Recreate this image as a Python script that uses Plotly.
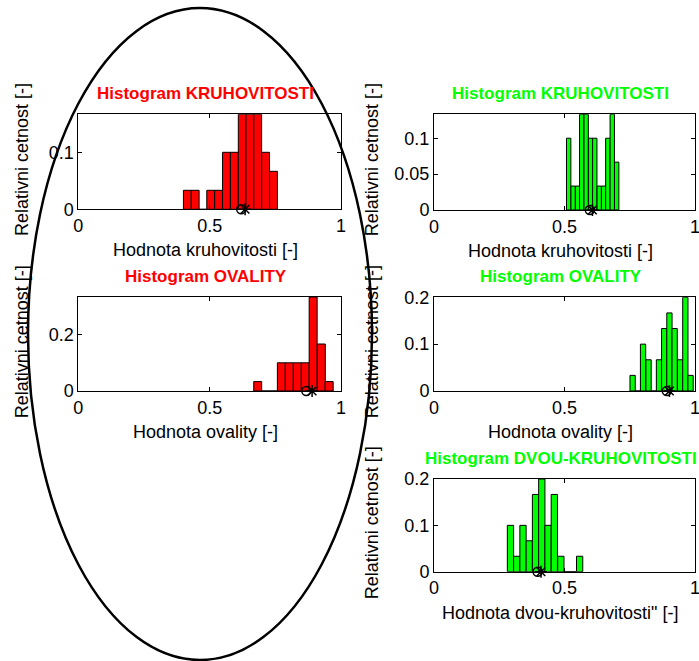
import plotly.graph_objects as go

W, H = 699, 661

# ---------------- data ----------------
# relative frequencies (counts / 30)
kruh_red_centers = [0.415, 0.445, 0.475, 0.504, 0.534, 0.564, 0.594, 0.624, 0.653, 0.683, 0.713, 0.743]
kruh_red_vals = [1/30, 1/30, 0, 1/30, 1/30, 3/30, 3/30, 5/30, 5/30, 5/30, 3/30, 2/30]
kruh_red_width = 0.0298
kruh_red_marks = [0.62, 0.635]

oval_red_centers = [0.683, 0.713, 0.743, 0.773, 0.803, 0.834, 0.864, 0.894, 0.925, 0.955]
oval_red_vals = [1/30, 0, 0, 3/30, 3/30, 3/30, 3/30, 10/30, 5/30, 1/30]
oval_red_width = 0.0303
oval_red_marks = [0.868, 0.89]

kruh_green_centers = [0.516, 0.533, 0.550, 0.566, 0.583, 0.600, 0.616, 0.633, 0.650, 0.666, 0.683, 0.700]
kruh_green_vals = [3/30, 1/30, 1/30, 4/30, 4/30, 3/30, 3/30, 1/30, 1/30, 3/30, 4/30, 2/30]
kruh_green_width = 0.01665
kruh_green_marks = [0.597, 0.607]

oval_green_centers = [0.761, 0.781, 0.801, 0.822, 0.842, 0.862, 0.882, 0.902, 0.922, 0.943, 0.963, 0.983]
oval_green_vals = [1/30, 0, 3/30, 2/30, 0, 2/30, 4/30, 5/30, 4/30, 2/30, 6/30, 1/30]
oval_green_width = 0.0202
oval_green_marks = [0.892, 0.902]

dvou_green_centers = [0.293, 0.317, 0.341, 0.365, 0.389, 0.413, 0.437, 0.461, 0.486, 0.510, 0.534, 0.558]
dvou_green_vals = [3/30, 1/30, 3/30, 2/30, 5/30, 6/30, 3/30, 5/30, 1/30, 0, 0, 1/30]
dvou_green_width = 0.02406
dvou_green_marks = [0.397, 0.41]

x_tickvals = [0, 0.5, 1]
x_ticktext = ["0", "0.5", "1"]

RED = "#ff0000"
GREEN = "#00ff00"
FONT = "Liberation Sans, Arial, sans-serif"

panels = [
    (kruh_red_centers, kruh_red_vals, kruh_red_width, kruh_red_marks, RED,
     "Histogram KRUHOVITOSTI", "Hodnota kruhovitosti [-]", 5/30, [0, 0.1], ["0", "0.1"], (78.3, 341, 114.3, 209.3), 56),
    (oval_red_centers, oval_red_vals, oval_red_width, oval_red_marks, RED,
     "Histogram OVALITY", "Hodnota ovality [-]", 10/30, [0, 0.2], ["0", "0.2"], (78.3, 341, 297, 391), 56),
    (kruh_green_centers, kruh_green_vals, kruh_green_width, kruh_green_marks, GREEN,
     "Histogram KRUHOVITOSTI", "Hodnota kruhovitosti [-]", 4/30, [0, 0.05, 0.1], ["0", "0.05", "0.1"], (434, 695, 114.3, 210), 62),
    (oval_green_centers, oval_green_vals, oval_green_width, oval_green_marks, GREEN,
     "Histogram OVALITY", "Hodnota ovality [-]", 6/30, [0, 0.1, 0.2], ["0", "0.1", "0.2"], (434, 695, 297.3, 391), 62),
    (dvou_green_centers, dvou_green_vals, dvou_green_width, dvou_green_marks, GREEN,
     "Histogram DVOU-KRUHOVITOSTI", "Hodnota dvou-kruhovitosti\" [-]", 6/30, [0, 0.1, 0.2], ["0", "0.1", "0.2"], (434, 695, 479, 571.7), 62),
]


def px(x):
    return x / W


def py(y):
    return 1 - y / H


fig = go.Figure()
annotations = []
layout = dict(
    width=W, height=H, margin=dict(l=0, r=0, t=0, b=0, autoexpand=False),
    paper_bgcolor="white", plot_bgcolor="white", showlegend=False,
    font=dict(family=FONT, size=18, color="black"),
)

for i, (cen, vals, wid, marks, col, title, xlab, ymax, ytv, ytt, box, yoff) in enumerate(panels):
    n = "" if i == 0 else str(i + 1)
    xa, ya = "x" + n, "y" + n
    x0, x1, y0, y1 = box
    fig.add_trace(go.Bar(
        x=cen, y=vals, width=[wid] * len(cen), xaxis=xa, yaxis=ya,
        marker=dict(color=col, line=dict(color="black", width=1)),
        hoverinfo="skip",
    ))
    fig.add_trace(go.Scatter(
        x=[marks[0]], y=[0], xaxis=xa, yaxis=ya, mode="markers", cliponaxis=False,
        marker=dict(symbol="circle-open", size=9, color="black", line=dict(width=1.5)),
    ))
    fig.add_trace(go.Scatter(
        x=[marks[1]], y=[0], xaxis=xa, yaxis=ya, mode="markers", cliponaxis=False,
        marker=dict(symbol="asterisk-open", size=10, color="black", line=dict(width=1.5, color="black")),
    ))
    common = dict(showline=True, linecolor="black", linewidth=1, mirror="ticks",
                  ticks="inside", ticklen=4, tickcolor="black", showgrid=False,
                  zeroline=False, tickfont=dict(family=FONT, size=18, color="black"),
                  automargin=False, ticklabeloverflow="allow")
    layout["xaxis" + n] = dict(domain=[px(x0), px(x1)], range=[0, 1], anchor=ya,
                               tickvals=x_tickvals, ticktext=x_ticktext, **common)
    layout["yaxis" + n] = dict(domain=[py(y1), py(y0)], range=[0, ymax], anchor=xa,
                               tickvals=ytv, ticktext=ytt, **common)
    cx = (x0 + x1) / 2 - 4
    annotations.append(dict(text="<b>%s</b>" % title, x=px(cx), y=py(y0 - 21), xref="paper", yref="paper",
                            showarrow=False, xanchor="center", yanchor="middle",
                            font=dict(family=FONT, size=17, color=col)))
    annotations.append(dict(text=xlab, x=px(cx), y=py(y1 + 41), xref="paper", yref="paper",
                            showarrow=False, xanchor="center", yanchor="middle",
                            font=dict(family=FONT, size=18, color="black")))
    annotations.append(dict(text="Relativni cetnost [-]", x=px(x0 - yoff), y=py((y0 + y1) / 2 - 2),
                            xref="paper", yref="paper", textangle=-90,
                            showarrow=False, xanchor="center", yanchor="middle",
                            font=dict(family=FONT, size=18, color="black")))

layout["annotations"] = annotations
layout["shapes"] = [dict(type="circle", xref="paper", yref="paper",
                         x0=px(28), x1=px(372), y0=py(660), y1=py(8),
                         line=dict(color="black", width=2.5), layer="above")]
fig.update_layout(**layout)
fig.write_html("out.html", config={"displayModeBar": False, "staticPlot": True},
               post_script="document.body.style.margin='0';document.body.style.overflow='hidden';")
